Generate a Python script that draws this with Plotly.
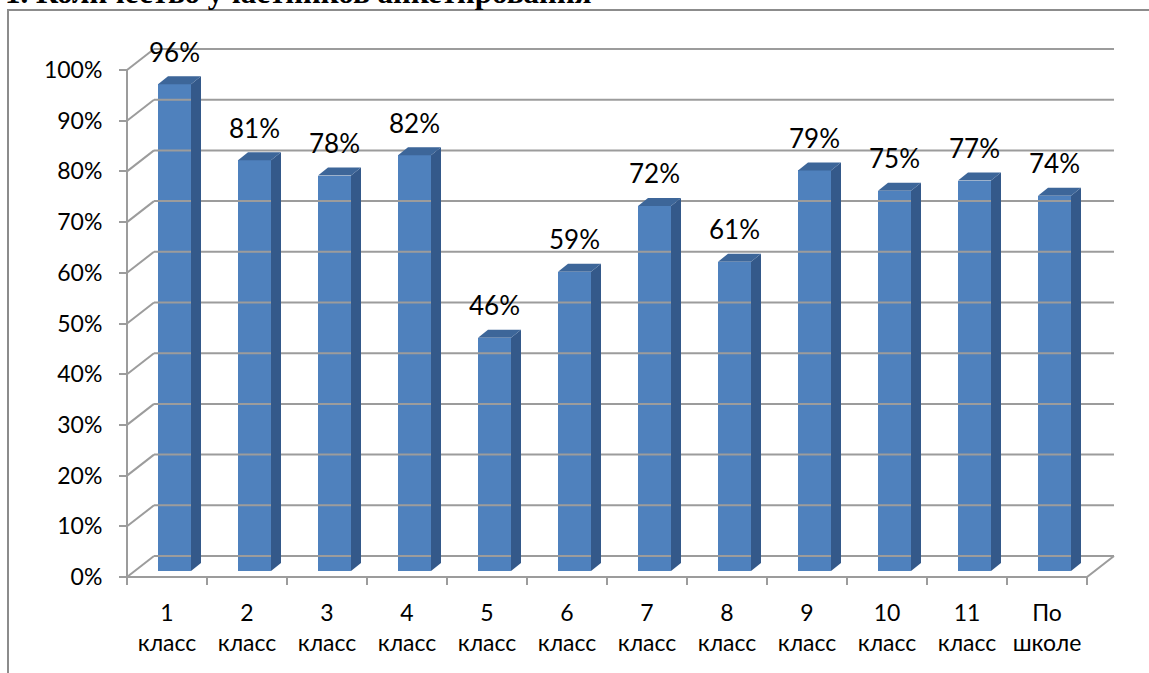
import plotly.graph_objects as go

# ---------------- data ----------------
categories = ["1<br>класс", "2<br>класс", "3<br>класс", "4<br>класс", "5<br>класс",
              "6<br>класс", "7<br>класс", "8<br>класс", "9<br>класс", "10<br>класс",
              "11<br>класс", "По<br>школе"]
values = [96, 81, 78, 82, 46, 59, 72, 61, 79, 75, 77, 74]
y_ticks = [0, 10, 20, 30, 40, 50, 60, 70, 80, 90, 100]
y_tick_labels = [f"{v}%" for v in y_ticks]
title_text = "1. Количество участников анкетирования"

# ---------------- geometry (pixels of the Excel-like 3D frame) ----------------
W, H = 1149, 673
CAT_PX = 80          # width of one category on the front floor
PX_PER_PCT = 5.07    # vertical pixels per 1 %
X0_PX = 167          # front centre of first category
Y0_PX = 577          # front floor line

x_range = [(0 - X0_PX) / CAT_PX, (W - X0_PX) / CAT_PX]
y_range = [(Y0_PX - H) / PX_PER_PCT, Y0_PX / PX_PER_PCT]

DX = 27 / CAT_PX          # wall depth
DY = 21 / PX_PER_PCT
BAR_SHIFT_X = 7.5 / CAT_PX
BAR_BASE = 6 / PX_PER_PCT
BAR_W = 33 / CAT_PX
SIDE_DX = 10 / CAT_PX
SIDE_DY = 8 / PX_PER_PCT
LABEL_GAP = 29 / PX_PER_PCT
TICK_LEN = 8 / PX_PER_PCT

GRID = "#9c9c9c"
FRONT = "#4F81BD"
SIDE = "#34598A"
TOP = "#3D6699"
FONT = "Lato"

n = len(values)
left, right = -0.5, n - 0.5

# ---------------- walls / gridlines ----------------
gx, gy = [], []
for v in y_ticks:
    gx += [left + DX, right + DX, None, left, left + DX, None]
    gy += [v + DY, v + DY, None, v, v + DY, None]
gx += [left, left, None, left, right, right + DX, None]
gy += [y_ticks[0], y_ticks[-1], None, 0, 0, DY, None]
for k in range(n + 1):
    b = left + k
    gx += [b, b, None]
    gy += [0, -TICK_LEN, None]

fig = go.Figure()
fig.add_trace(go.Scatter(x=gx, y=gy, mode="lines",
                         line=dict(color=GRID, width=2), hoverinfo="skip"))

# ---------------- bars ----------------
xc = [i + BAR_SHIFT_X for i in range(n)]
fig.add_trace(go.Bar(x=xc, y=values, base=BAR_BASE, width=BAR_W,
                     marker=dict(color=FRONT, line=dict(width=0))))

sx, sy, tx, ty = [], [], [], []
for c, v in zip(xc, values):
    xr = c + BAR_W / 2
    xl = c - BAR_W / 2
    top = BAR_BASE + v
    sx += [xr, xr + SIDE_DX, xr + SIDE_DX, xr, xr, None]
    sy += [BAR_BASE, BAR_BASE + SIDE_DY, top + SIDE_DY, top, BAR_BASE, None]
    tx += [xl, xl + SIDE_DX, xr + SIDE_DX, xr, xl, None]
    ty += [top, top + SIDE_DY, top + SIDE_DY, top, top, None]
fig.add_trace(go.Scatter(x=sx, y=sy, mode="lines", fill="toself", fillcolor=SIDE,
                         line=dict(width=0, color=SIDE), hoverinfo="skip"))
fig.add_trace(go.Scatter(x=tx, y=ty, mode="lines", fill="toself", fillcolor=TOP,
                         line=dict(width=0, color=TOP), hoverinfo="skip"))

# ---------------- data labels ----------------
fig.add_trace(go.Scatter(x=xc, y=[BAR_BASE + v + LABEL_GAP for v in values],
                         mode="text", text=[f"{v}%" for v in values],
                         textposition="middle center",
                         textfont=dict(family=FONT, size=26, color="black"),
                         hoverinfo="skip"))

# ---------------- layout ----------------
fig.update_layout(
    width=W, height=H,
    margin=dict(l=0, r=0, t=0, b=0),
    paper_bgcolor="white", plot_bgcolor="white",
    showlegend=False,
    template="none",
    bargap=0,
    xaxis=dict(range=x_range, tickvals=list(range(n)), ticktext=categories,
               ticks="", showgrid=False, zeroline=False, showline=False,
               anchor="free", position=(H - Y0_PX) / H, automargin=False,
               ticklabelstandoff=20,
               tickfont=dict(family=FONT, size=23, color="black"), fixedrange=True),
    yaxis=dict(range=y_range, tickvals=y_ticks, ticktext=y_tick_labels,
               ticks="outside", ticklen=8, tickwidth=2, tickcolor=GRID,
               showgrid=False, zeroline=False, showline=False,
               anchor="free", position=127 / W, automargin=False,
               ticklabelstandoff=12,
               tickfont=dict(family=FONT, size=23, color="black"), fixedrange=True),
    shapes=[dict(type="rect", xref="paper", yref="paper",
                 x0=8 / W, x1=1.05, y0=-0.05, y1=1 - 10 / H,
                 line=dict(color="#8c8c8c", width=2), layer="below")],
    annotations=[dict(text=f"<b>{title_text}</b>", xref="paper", yref="paper",
                      x=3 / W, y=1 + 8 / H, xanchor="left", yanchor="middle",
                      showarrow=False,
                      font=dict(family="Liberation Serif", size=31, color="black"))],
)

fig.write_html("out.html", config={"displayModeBar": False},
               post_script="document.body.style.margin='0';")
